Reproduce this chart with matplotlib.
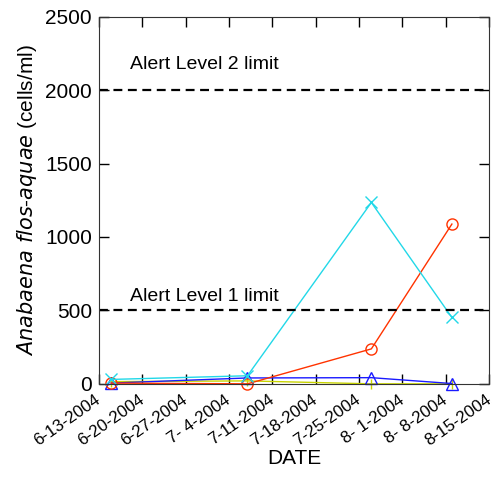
import numpy as np
import matplotlib.pyplot as plt
import matplotlib.transforms as mtransforms
from datetime import date

plt.rcParams['font.family'] = ['Liberation Sans', 'DejaVu Sans']

# Sampling dates
dates = [date(2004, 6, 15), date(2004, 7, 7), date(2004, 7, 27), date(2004, 8, 9)]

# Anabaena flos-aquae counts (cells/ml) per station
cyan_vals = [30, 55, 1235, 452]
red_vals = [5, 0, 238, 1088]
blue_vals = [5, 40, 42, 2]
yellow_vals = [15, 20, 0, 0]

tick_dates = [date(2004, 6, 13), date(2004, 6, 20), date(2004, 6, 27), date(2004, 7, 4),
              date(2004, 7, 11), date(2004, 7, 18), date(2004, 7, 25), date(2004, 8, 1),
              date(2004, 8, 8), date(2004, 8, 15)]
tick_labels = [f"{d.month}-{d.day:2d}-{d.year}" for d in tick_dates]

alert1 = 500
alert2 = 2000

fig = plt.figure(figsize=(4.94, 4.78), dpi=100)
ax = fig.add_axes([0.2, 0.197, 0.79, 0.768])

ax.plot(dates, yellow_vals, color='#c8d400', lw=1, marker='|', ms=7, mew=1, clip_on=False)
ax.plot(dates, blue_vals, color='#1a1aff', lw=1, marker='^', ms=8, mfc='none', mew=1, clip_on=False)
ax.plot(dates, red_vals, color='#ff3300', lw=1, marker='o', ms=8, mfc='none', mew=1, clip_on=False)
ax.plot(dates, cyan_vals, color='#22d8e8', lw=1, marker='x', ms=8, mew=1, clip_on=False)

ax.axhline(alert2, color='black', ls=(0, (4, 2.5)), lw=1.6)
ax.axhline(alert1, color='black', ls=(0, (4, 2.5)), lw=1.6)
ax.text(date(2004, 6, 18), 2120, 'Alert Level 2 limit', fontsize=14, va='bottom')
ax.text(date(2004, 6, 18), 540, 'Alert Level 1 limit', fontsize=14, va='bottom')

ax.set_xlim(date(2004, 6, 13), date(2004, 8, 15))
ax.set_ylim(0, 2500)
ax.set_yticks([0, 500, 1000, 1500, 2000, 2500])
ax.set_xticks(tick_dates)
ax.set_xticklabels(tick_labels, rotation=35, ha='right', rotation_mode='anchor', fontsize=12.2)
ax.tick_params(axis='y', labelsize=15, pad=5)
ax.tick_params(direction='in', length=7, top=True, right=True, width=1)
ax.tick_params(axis='x', pad=6)
shift = mtransforms.ScaledTranslation(-4 / 100, 0, fig.dpi_scale_trans)
for lab in ax.get_xticklabels():
    lab.set_transform(lab.get_transform() + shift)
for s in ax.spines.values():
    s.set_color('#333333')

ax.set_xlabel('DATE', fontsize=15, labelpad=0)
ax.set_ylabel(r'$\it{Anabaena\ flos}$-$\it{aquae}$ (cells/ml)', fontsize=15, labelpad=4)

fig.savefig('out.png', dpi=100)
